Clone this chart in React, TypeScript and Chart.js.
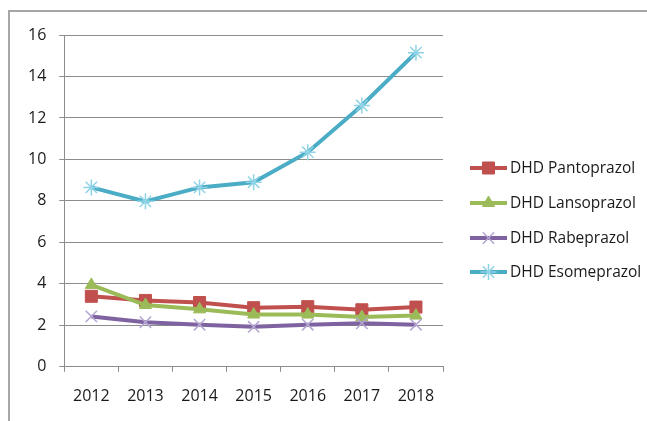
import { useEffect, useRef } from 'react';
import { Chart, registerables, ChartConfiguration, Plugin } from 'chart.js';
import { drawPoint } from 'chart.js/helpers';

Chart.register(...registerables);

const years = ['2012', '2013', '2014', '2015', '2016', '2017', '2018'];
const pantoprazol = [3.4, 3.2, 3.1, 2.85, 2.9, 2.75, 2.88];
const lansoprazol = [3.95, 2.98, 2.77, 2.52, 2.52, 2.4, 2.47];
const rabeprazol = [2.43, 2.15, 2.03, 1.93, 2.03, 2.1, 2.03];
const esomeprazol = [8.65, 7.98, 8.65, 8.9, 10.35, 12.6, 15.15];
const seriesNames = ['DHD Pantoprazol', 'DHD Lansoprazol', 'DHD Rabeprazol', 'DHD Esomeprazol'];

const FONT = "'Open Sans', 'DejaVu Sans', sans-serif";

// legend on the right: line with marker, then the label
const sideLegend: Plugin<'line'> = {
  id: 'sideLegend',
  afterDraw(chart) {
    const { ctx } = chart;
    const x0 = 470;
    const x1 = 507;
    const ys = [168, 203, 238, 272];
    ctx.save();
    chart.data.datasets.forEach((ds: any, i) => {
      const y = ys[i];
      ctx.strokeStyle = ds.borderColor;
      ctx.lineWidth = 4;
      ctx.lineCap = 'butt';
      ctx.beginPath();
      ctx.moveTo(x0, y);
      ctx.lineTo(x1, y);
      ctx.stroke();
      ctx.fillStyle = ds.pointBackgroundColor;
      ctx.strokeStyle = ds.pointBorderColor;
      ctx.lineWidth = ds.pointBorderWidth;
      drawPoint(ctx, { pointStyle: ds.pointStyle, radius: ds.pointRadius, rotation: 0, borderWidth: ds.pointBorderWidth }, (x0 + x1) / 2, y);
      ctx.fillStyle = '#1a1a1a';
      ctx.font = `15.5px ${FONT}`;
      ctx.textAlign = 'left';
      ctx.textBaseline = 'middle';
      ctx.fillText(ds.label, 510, y + 1);
    });
    ctx.restore();
  },
};

export default function App() {
  const canvasRef = useRef<HTMLCanvasElement>(null);

  useEffect(() => {
    if (!canvasRef.current) return;
    const config: ChartConfiguration<'line'> = {
      type: 'line',
      data: {
        labels: years,
        datasets: [
          {
            label: seriesNames[0],
            data: pantoprazol,
            borderColor: '#c0504d',
            borderWidth: 4,
            pointStyle: 'rect',
            pointRadius: 8.5,
            pointBackgroundColor: '#c0504d',
            pointBorderColor: '#c0504d',
            pointBorderWidth: 1,
            order: 4,
          },
          {
            label: seriesNames[1],
            data: lansoprazol,
            borderColor: '#9bbb59',
            borderWidth: 4,
            pointStyle: 'triangle',
            pointRadius: 7,
            pointBackgroundColor: '#9bbb59',
            pointBorderColor: '#9bbb59',
            pointBorderWidth: 1,
            order: 3,
          },
          {
            label: seriesNames[2],
            data: rabeprazol,
            borderColor: '#7f63a1',
            borderWidth: 4,
            pointStyle: 'crossRot',
            pointRadius: 8,
            pointBackgroundColor: '#b3a6d3',
            pointBorderColor: '#b3a6d3',
            pointBorderWidth: 1.5,
            order: 2,
          },
          {
            label: seriesNames[3],
            data: esomeprazol,
            borderColor: '#4aacc5',
            borderWidth: 4,
            pointStyle: 'star',
            pointRadius: 8,
            pointBackgroundColor: '#8fd3e6',
            pointBorderColor: '#8fd3e6',
            pointBorderWidth: 1.5,
            order: 1,
          },
        ],
      },
      options: {
        animation: false,
        responsive: false,
        maintainAspectRatio: false,
        layout: { padding: { left: 15, right: 204, top: 35, bottom: 0 } },
        plugins: { legend: { display: false }, tooltip: { enabled: false } },
        scales: {
          x: {
            offset: true,
            grid: {
              offset: true,
              drawOnChartArea: false,
              drawTicks: true,
              tickLength: 5,
              color: '#8c8c8c',
            },
            border: { display: true, color: '#8c8c8c', width: 1 },
            ticks: { color: '#1a1a1a', font: { family: FONT, size: 16 }, padding: 15 },
          },
          y: {
            min: 0,
            max: 16,
            ticks: { stepSize: 2, color: '#1a1a1a', font: { family: FONT, size: 16 }, padding: 13 },
            grid: { color: '#8c8c8c', tickLength: 5, drawTicks: true },
            border: { display: true, color: '#8c8c8c', width: 1 },
          },
        },
      },
      plugins: [sideLegend],
    };
    const chart = new Chart(canvasRef.current, config);
    return () => chart.destroy();
  }, []);

  return (
    <div style={{ position: 'fixed', left: 0, top: 0, width: 647, height: 421, background: '#fff' }}>
      <div
        style={{
          position: 'absolute',
          left: 8,
          top: 10,
          width: 660,
          height: 430,
          borderTop: '2px solid #a6a6a6',
          borderLeft: '2px solid #a6a6a6',
        }}
      />
      <canvas ref={canvasRef} width={647} height={421} style={{ position: 'absolute', left: 0, top: 0 }} />
    </div>
  );
}
